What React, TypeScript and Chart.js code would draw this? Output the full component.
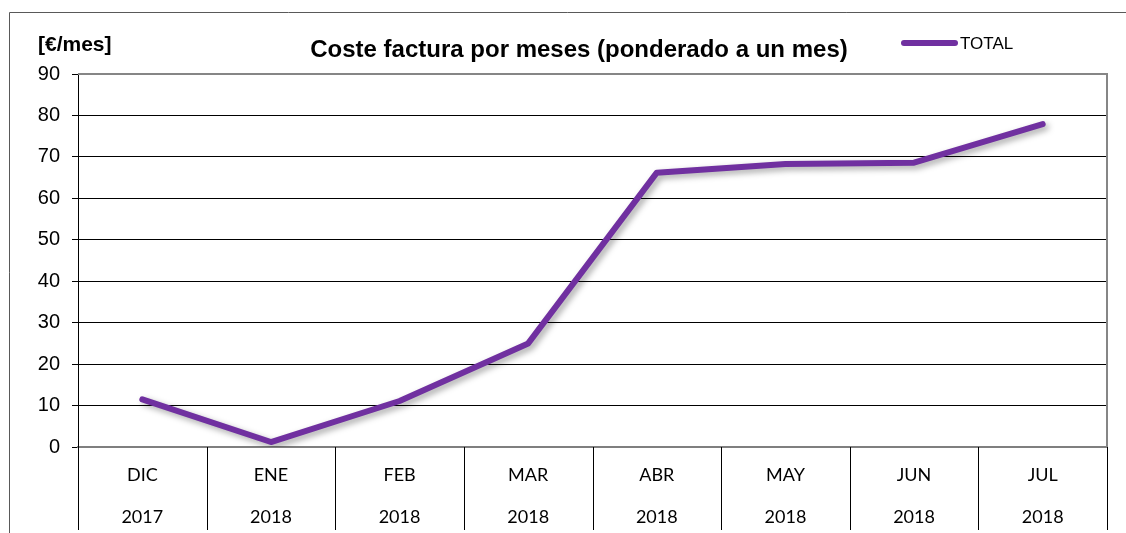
import React, { useEffect, useRef } from "react";
import { Chart, registerables } from "chart.js";

Chart.register(...registerables);

const months = ["DIC", "ENE", "FEB", "MAR", "ABR", "MAY", "JUN", "JUL"];
const years = ["2017", "2018", "2018", "2018", "2018", "2018", "2018", "2018"];
const totalValues = [11.5, 1.2, 11.1, 25.0, 66.2, 68.3, 68.6, 77.9];
const yMin = 0;
const yMax = 90;
const yStep = 10;
const titleText = "Coste factura por meses (ponderado a un mes)";
const unitText = "[€/mes]";
const seriesName = "TOTAL";
const lineColor = "#7030A0";

const W = 1126;
const H = 533;

const decorPlugin = {
  id: "decor",
  beforeDatasetsDraw(chart: any) {
    const ctx = chart.ctx;
    ctx.save();
    ctx.shadowColor = "rgba(0,0,0,0.35)";
    ctx.shadowBlur = 6;
    ctx.shadowOffsetX = 3;
    ctx.shadowOffsetY = 3;
  },
  afterDatasetsDraw(chart: any) {
    chart.ctx.restore();
  },
  afterDraw(chart: any) {
    const ctx = chart.ctx;
    const { left, top, right, bottom } = chart.chartArea;
    const xs = chart.scales.x;
    ctx.save();
    // plot border (top/right)
    ctx.strokeStyle = "#868686";
    ctx.lineWidth = 2;
    ctx.beginPath();
    ctx.moveTo(left, top);
    ctx.lineTo(right, top);
    ctx.lineTo(right, bottom);
    ctx.stroke();
    // category separators below axis
    const half = (xs.getPixelForValue(1) - xs.getPixelForValue(0)) / 2;
    ctx.strokeStyle = "#000";
    ctx.lineWidth = 1;
    for (let i = 0; i <= months.length; i++) {
      const x = Math.round(xs.getPixelForValue(i) - half) + 0.5;
      ctx.beginPath();
      ctx.moveTo(x, bottom);
      ctx.lineTo(x, H - 3);
      ctx.stroke();
    }
    // outer frame
    ctx.strokeStyle = "#595959";
    ctx.lineWidth = 1;
    ctx.beginPath();
    ctx.moveTo(9.5, H);
    ctx.lineTo(9.5, 12.5);
    ctx.lineTo(W, 12.5);
    ctx.stroke();
    // title
    ctx.fillStyle = "#000";
    ctx.textBaseline = "middle";
    ctx.textAlign = "center";
    ctx.font = "bold 24px 'Liberation Sans', Arial, sans-serif";
    ctx.fillText(titleText, 579, 50);
    ctx.textAlign = "left";
    ctx.font = "bold 21px 'Liberation Sans', Arial, sans-serif";
    ctx.fillText(unitText, 38, 45);
    // legend
    ctx.strokeStyle = lineColor;
    ctx.lineWidth = 6;
    ctx.lineCap = "round";
    ctx.beginPath();
    ctx.moveTo(904, 43);
    ctx.lineTo(955, 43);
    ctx.stroke();
    ctx.font = "17px 'Liberation Sans', Arial, sans-serif";
    ctx.fillText(seriesName, 960, 44);
    ctx.restore();
  },
};

export default function App() {
  const ref = useRef<HTMLCanvasElement>(null);
  useEffect(() => {
    const chart = new Chart(ref.current!, {
      type: "line",
      data: {
        labels: months.map((m, i) => [m, years[i]]),
        datasets: [
          {
            label: seriesName,
            data: totalValues,
            borderColor: lineColor,
            backgroundColor: lineColor,
            borderWidth: 6,
            borderCapStyle: "round",
            borderJoinStyle: "round",
            pointRadius: 0,
            tension: 0,
          },
        ],
      },
      plugins: [decorPlugin],
      options: {
        responsive: false,
        animation: false,
        layout: { padding: { top: 74, right: 19, left: 0, bottom: 0 } },
        plugins: {
          legend: { display: false },
          title: { display: false },
          tooltip: { enabled: false },
        },
        scales: {
          x: {
            offset: true,
            grid: { display: false, drawTicks: false },
            border: { display: true, color: "#7f7f7f", width: 2 },
            ticks: {
              padding: 7,
              color: "#000",
              maxRotation: 0,
              autoSkip: false,
              font: { family: "Lato, 'Open Sans', sans-serif", size: 18, lineHeight: "42px" },
            },
            afterFit: (s: any) => {
              s.height = 86;
            },
          },
          y: {
            min: yMin,
            max: yMax,
            ticks: {
              stepSize: yStep,
              padding: 12,
              color: "#000",
              font: { family: "'Liberation Sans', Arial, sans-serif", size: 20 },
            },
            grid: { color: "#000", lineWidth: 1, tickLength: 6, drawTicks: true },
            border: { display: true, color: "#000", width: 1 },
            afterFit: (s: any) => {
              s.width = 78;
            },
          },
        },
      },
    } as any);
    return () => chart.destroy();
  }, []);
  return (
    <div style={{ position: "absolute", left: 0, top: 0 }}>
      <canvas ref={ref} width={W} height={H} style={{ display: "block" }} />
    </div>
  );
}
